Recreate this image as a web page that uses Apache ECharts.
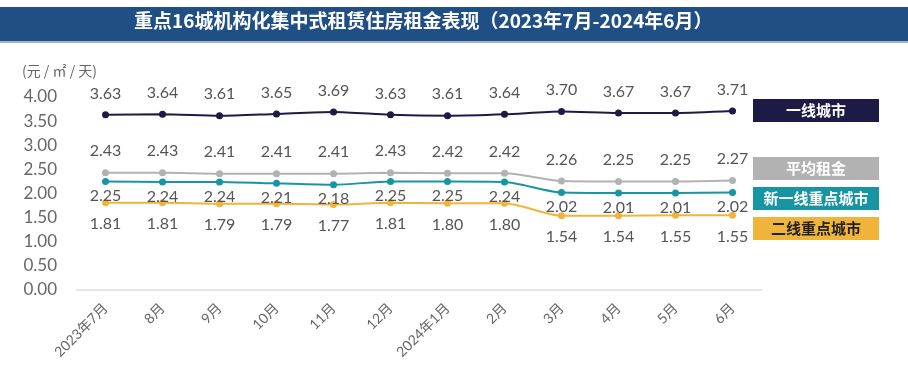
<!DOCTYPE html>
<html><head><meta charset="utf-8">
<script src="https://cdn.jsdelivr.net/npm/echarts@6/dist/echarts.min.js"></script>
<style>html,body{margin:0;padding:0;background:#fff}#c{width:908px;height:391px}</style>
</head><body><div id="c"></div>
<script>
const categories = ['2023年7月','8月','9月','10月','11月','12月','2024年1月','2月','3月','4月','5月','6月'];
const tier1 = [3.63,3.64,3.61,3.65,3.69,3.63,3.61,3.64,3.70,3.67,3.67,3.71];
const average = [2.43,2.43,2.41,2.41,2.41,2.43,2.42,2.42,2.26,2.25,2.25,2.27];
const newTier1 = [2.25,2.24,2.24,2.21,2.18,2.25,2.25,2.24,2.02,2.01,2.01,2.02];
const tier2 = [1.81,1.81,1.79,1.79,1.77,1.81,1.80,1.80,1.54,1.54,1.55,1.55];
const seriesNames = ['一线城市','平均租金','新一线重点城市','二线重点城市'];
const yTicks = [0,0.5,1,1.5,2,2.5,3,3.5,4];
const colors = ['#1d1b45','#b2b2b2','#1795a3','#f1b43a'];
const labelPos = ['top','top','bottom','bottom'];
const labelDist = [10,10,3,10];
const F = '"Lato","Noto Sans CJK SC",sans-serif';

const chart = echarts.init(document.getElementById('c'));
const data = [tier1, average, newTier1, tier2];
const boxY = [99, 157, 187, 217];
const boxText = ['#fff','#fff','#fff','#222'];
const graphics = [
  {type:'rect', shape:{x:0,y:7,width:908,height:34}, style:{fill:'#1f4f85'}, z:0},
  {type:'rect', shape:{x:0,y:41,width:908,height:2}, style:{fill:'#9fb3cc'}, z:0},
  {type:'text', left:134, top:11, style:{text:'重点16城机构化集中式租赁住房租金表现（2023年7月-2024年6月）', fill:'#fff', font:'bold 19px "Noto Sans CJK SC",sans-serif'}, z:2},
  {type:'text', left:22, top:64, style:{text:'(元 / ㎡ / 天)', fill:'#666', font:'14px "Noto Sans CJK SC",sans-serif'}}
];
seriesNames.forEach((n,i)=>{
  graphics.push({type:'rect', shape:{x:753,y:boxY[i],width:126,height:23}, style:{fill:colors[i]}});
  graphics.push({type:'text', x:816, y:boxY[i]+11.5, style:{text:n, fill:boxText[i], font:'bold 15px "Noto Sans CJK SC",sans-serif', textAlign:'center', textVerticalAlign:'middle'}});
});

chart.setOption({
  animation:false,
  graphic: graphics,
  grid:{left:77, right:147, top:97, bottom:101},
  xAxis:{type:'category', data:categories, boundaryGap:true,
    axisLine:{lineStyle:{color:'#e6e6e6', width:2}}, axisTick:{show:false},
    axisLabel:{rotate:45, color:'#666', fontSize:14, fontFamily:F, margin:16, interval:0}},
  yAxis:{type:'value', min:0, max:4, interval:0.5, splitLine:{show:false},
    axisLine:{show:false}, axisTick:{show:false},
    axisLabel:{color:'#666', fontSize:17, fontFamily:F, margin:20, formatter:v=>v.toFixed(2)}},
  series: seriesNames.map((n,i)=>({
    name:n, type:'line', data:data[i], symbol:'circle', symbolSize:7, smooth:0.25,
    itemStyle:{color:colors[i]}, lineStyle:{color:colors[i], width:2},
    label:{show:true, position:labelPos[i], distance:labelDist[i], color:'#555', fontSize:16, fontFamily:F, formatter:p=>p.value.toFixed(2)}
  }))
});
</script></body></html>
